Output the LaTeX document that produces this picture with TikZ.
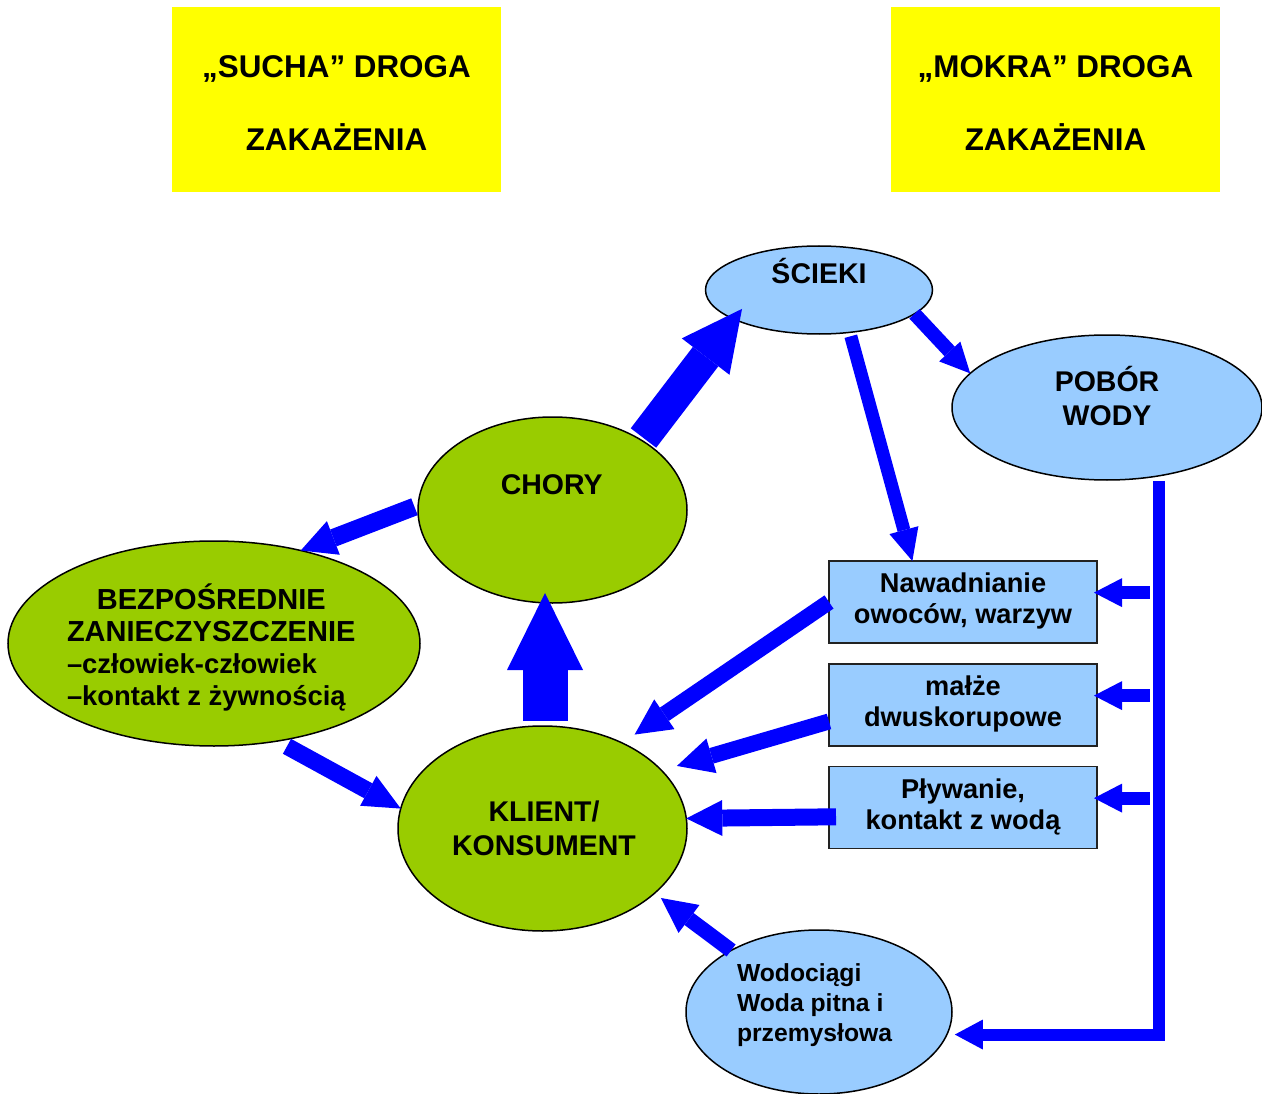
\documentclass[tikz,border=0pt]{standalone}
\usepackage{fontspec}
\setmainfont{Liberation Sans}
\usetikzlibrary{arrows.meta,shapes.geometric}
\definecolor{arrowblue}{HTML}{0000FF}
\definecolor{lightblue}{HTML}{99CCFF}
\definecolor{leafgreen}{HTML}{99CC00}
\definecolor{signyellow}{HTML}{FFFF00}
\definecolor{boxedge}{HTML}{222222}
\newcommand{\fsz}[2]{\fontsize{#1}{#2}\selectfont\bfseries}
\newcommand{\ctabtxt}[1]{\begin{tabular}[t]{@{}c@{}}#1\end{tabular}}
\newcommand{\ltabtxt}[1]{\begin{tabular}[t]{@{}l@{}}#1\end{tabular}}
\newcommand{\boxtabtxt}[1]{\raisebox{2.3pt}{\begin{tabular}[t]{@{}c@{}}#1\end{tabular}}}
\begin{document}
\begin{tikzpicture}[x=1pt,y=-1pt,
  every node/.style={outer sep=0pt},
  ell/.style={ellipse, draw=black, line width=1.5pt, inner sep=0pt},
  lbl/.style={inner sep=0pt, anchor=base},
  lblL/.style={inner sep=0pt, anchor=base west},
  infobox/.style={rectangle, draw=boxedge, fill=lightblue, line width=1.5pt, minimum width=268pt, minimum height=82pt, inner sep=0pt, font=\fsz{27.2}{31}},
  signbox/.style={rectangle, fill=signyellow, minimum width=329pt, minimum height=185pt, inner sep=0pt, font=\fsz{31.4}{73}},
  barrow/.style n args={3}{draw=arrowblue, line width=#1, -{Triangle[width=#2, length=#3, line width=0pt]}}
]
\useasboundingbox (0,0) rectangle (1262,1094);
\fill[white] (0,0) rectangle (1262,1094);

% title boxes
\node[signbox] (sucha) at (336.5,99.5) {\ctabtxt{„SUCHA” DROGA\\ZAKAŻENIA}};
\node[signbox] (mokra) at (1055.5,99.5) {\ctabtxt{„MOKRA” DROGA\\ZAKAŻENIA}};

% ellipses
\node[ell, fill=lightblue, minimum width=227pt, minimum height=88pt] (scieki) at (819,290) {};
\node[ell, fill=lightblue, minimum width=310pt, minimum height=145pt] (pobor) at (1107,407.5) {};
\node[ell, fill=leafgreen, minimum width=269pt, minimum height=186pt] (chory) at (552.5,510) {};
\node[ell, fill=leafgreen, minimum width=412pt, minimum height=205pt] (bez) at (214,643.5) {};
\node[ell, fill=leafgreen, minimum width=289pt, minimum height=205pt] (klient) at (542.5,828.5) {};
\node[ell, fill=lightblue, minimum width=266pt, minimum height=164pt] (wodo) at (819,1012) {};

% ellipse texts
\node[lbl, font=\fsz{28.5}{33}] (sciekiT) at (819,283.3) {ŚCIEKI};
\node[lbl, font=\fsz{28.5}{33.3}] (poborT) at (1107,391.7) {\ctabtxt{POBÓR\\WODY}};
\node[lbl, font=\fsz{28.5}{33}] (choryT) at (551.7,494.3) {CHORY};
\node[lbl, font=\fsz{28.5}{33.5}] (klientT) at (544,821.7) {\ctabtxt{KLIENT/\\KONSUMENT}};
\node[lblL, font=\fsz{29}{31.9}] (bezT) at (67,609.3) {\ltabtxt{\hspace*{29.9pt}BEZPOŚREDNIE\\ZANIECZYSZCZENIE\\{\fsz{27.4}{31.9}–człowiek-człowiek}\\{\fsz{27.4}{31.9}–kontakt z żywnością}}};
\node[lblL, font=\fsz{24.7}{30}] (wodoT) at (737,981.7) {\ltabtxt{Wodociągi\\Woda pitna i\\przemysłowa}};

% boxes
\node[infobox] (naw) at (963,602) {\boxtabtxt{Nawadnianie\\owoców, warzyw}};
\node[infobox] (malze) at (963,705) {\boxtabtxt{małże\\dwuskorupowe}};
\node[infobox] (plyw) at (963,807.5) {\boxtabtxt{Pływanie,\\kontakt z wodą}};

% arrows
\draw[barrow={32pt}{60pt}{60pt}, shorten >=-13pt, shorten <=3pt] (chory.38) -- (scieki.199.2);
\draw[barrow={14pt}{29pt}{30pt}] (scieki.-14.5) -- (pobor.166.6);
\draw[barrow={13pt}{30pt}{32pt}, shorten <=4pt] (scieki.-54.9) -- (naw.141.7);
\draw[barrow={18pt}{36pt}{35pt}, shorten <=4pt] (chory.178) -- (bez.47.8);
\draw[barrow={17pt}{34pt}{37pt}, shorten <=11pt] (bez.-57.6) -- (klient.172.3);
\draw[barrow={45pt}{76pt}{77pt}, shorten <=5pt, shorten >=-10pt] ([xshift=2.5pt]klient.north) -- ([xshift=2.5pt]klient.north |- chory.south);
\draw[barrow={16pt}{36pt}{36pt}, shorten >=15pt] (naw.west) -- (klient.47.1);
\draw[barrow={16pt}{36pt}{36pt}, shorten >=16pt] (malze.187.2) -- (klient.26.7);
\draw[barrow={17pt}{36pt}{36pt}, shorten <=-7pt] (plyw.184.5) -- (klient.4.9);
\draw[barrow={15pt}{35pt}{35pt}, shorten >=8pt] (wodo.145.6) -- (klient.-30.1);

% water pipe
\coordinate (pipetop) at (pobor.-53.1);
\draw[barrow={12pt}{30pt}{28pt}, shorten <=5pt, shorten >=8pt] (pipetop) |- (wodo.-10.2);
\draw[barrow={13pt}{29pt}{28pt}, shorten <=9pt, shorten >=-3pt] (pipetop |- naw.4.7) -- (naw.4.7);
\draw[barrow={13pt}{29pt}{28pt}, shorten <=9pt, shorten >=-3pt] (pipetop |- malze.4.7) -- (malze.4.7);
\draw[barrow={13pt}{29pt}{28pt}, shorten <=9pt, shorten >=-3pt] (pipetop |- plyw.4.7) -- (plyw.4.7);
\end{tikzpicture}
\end{document}
